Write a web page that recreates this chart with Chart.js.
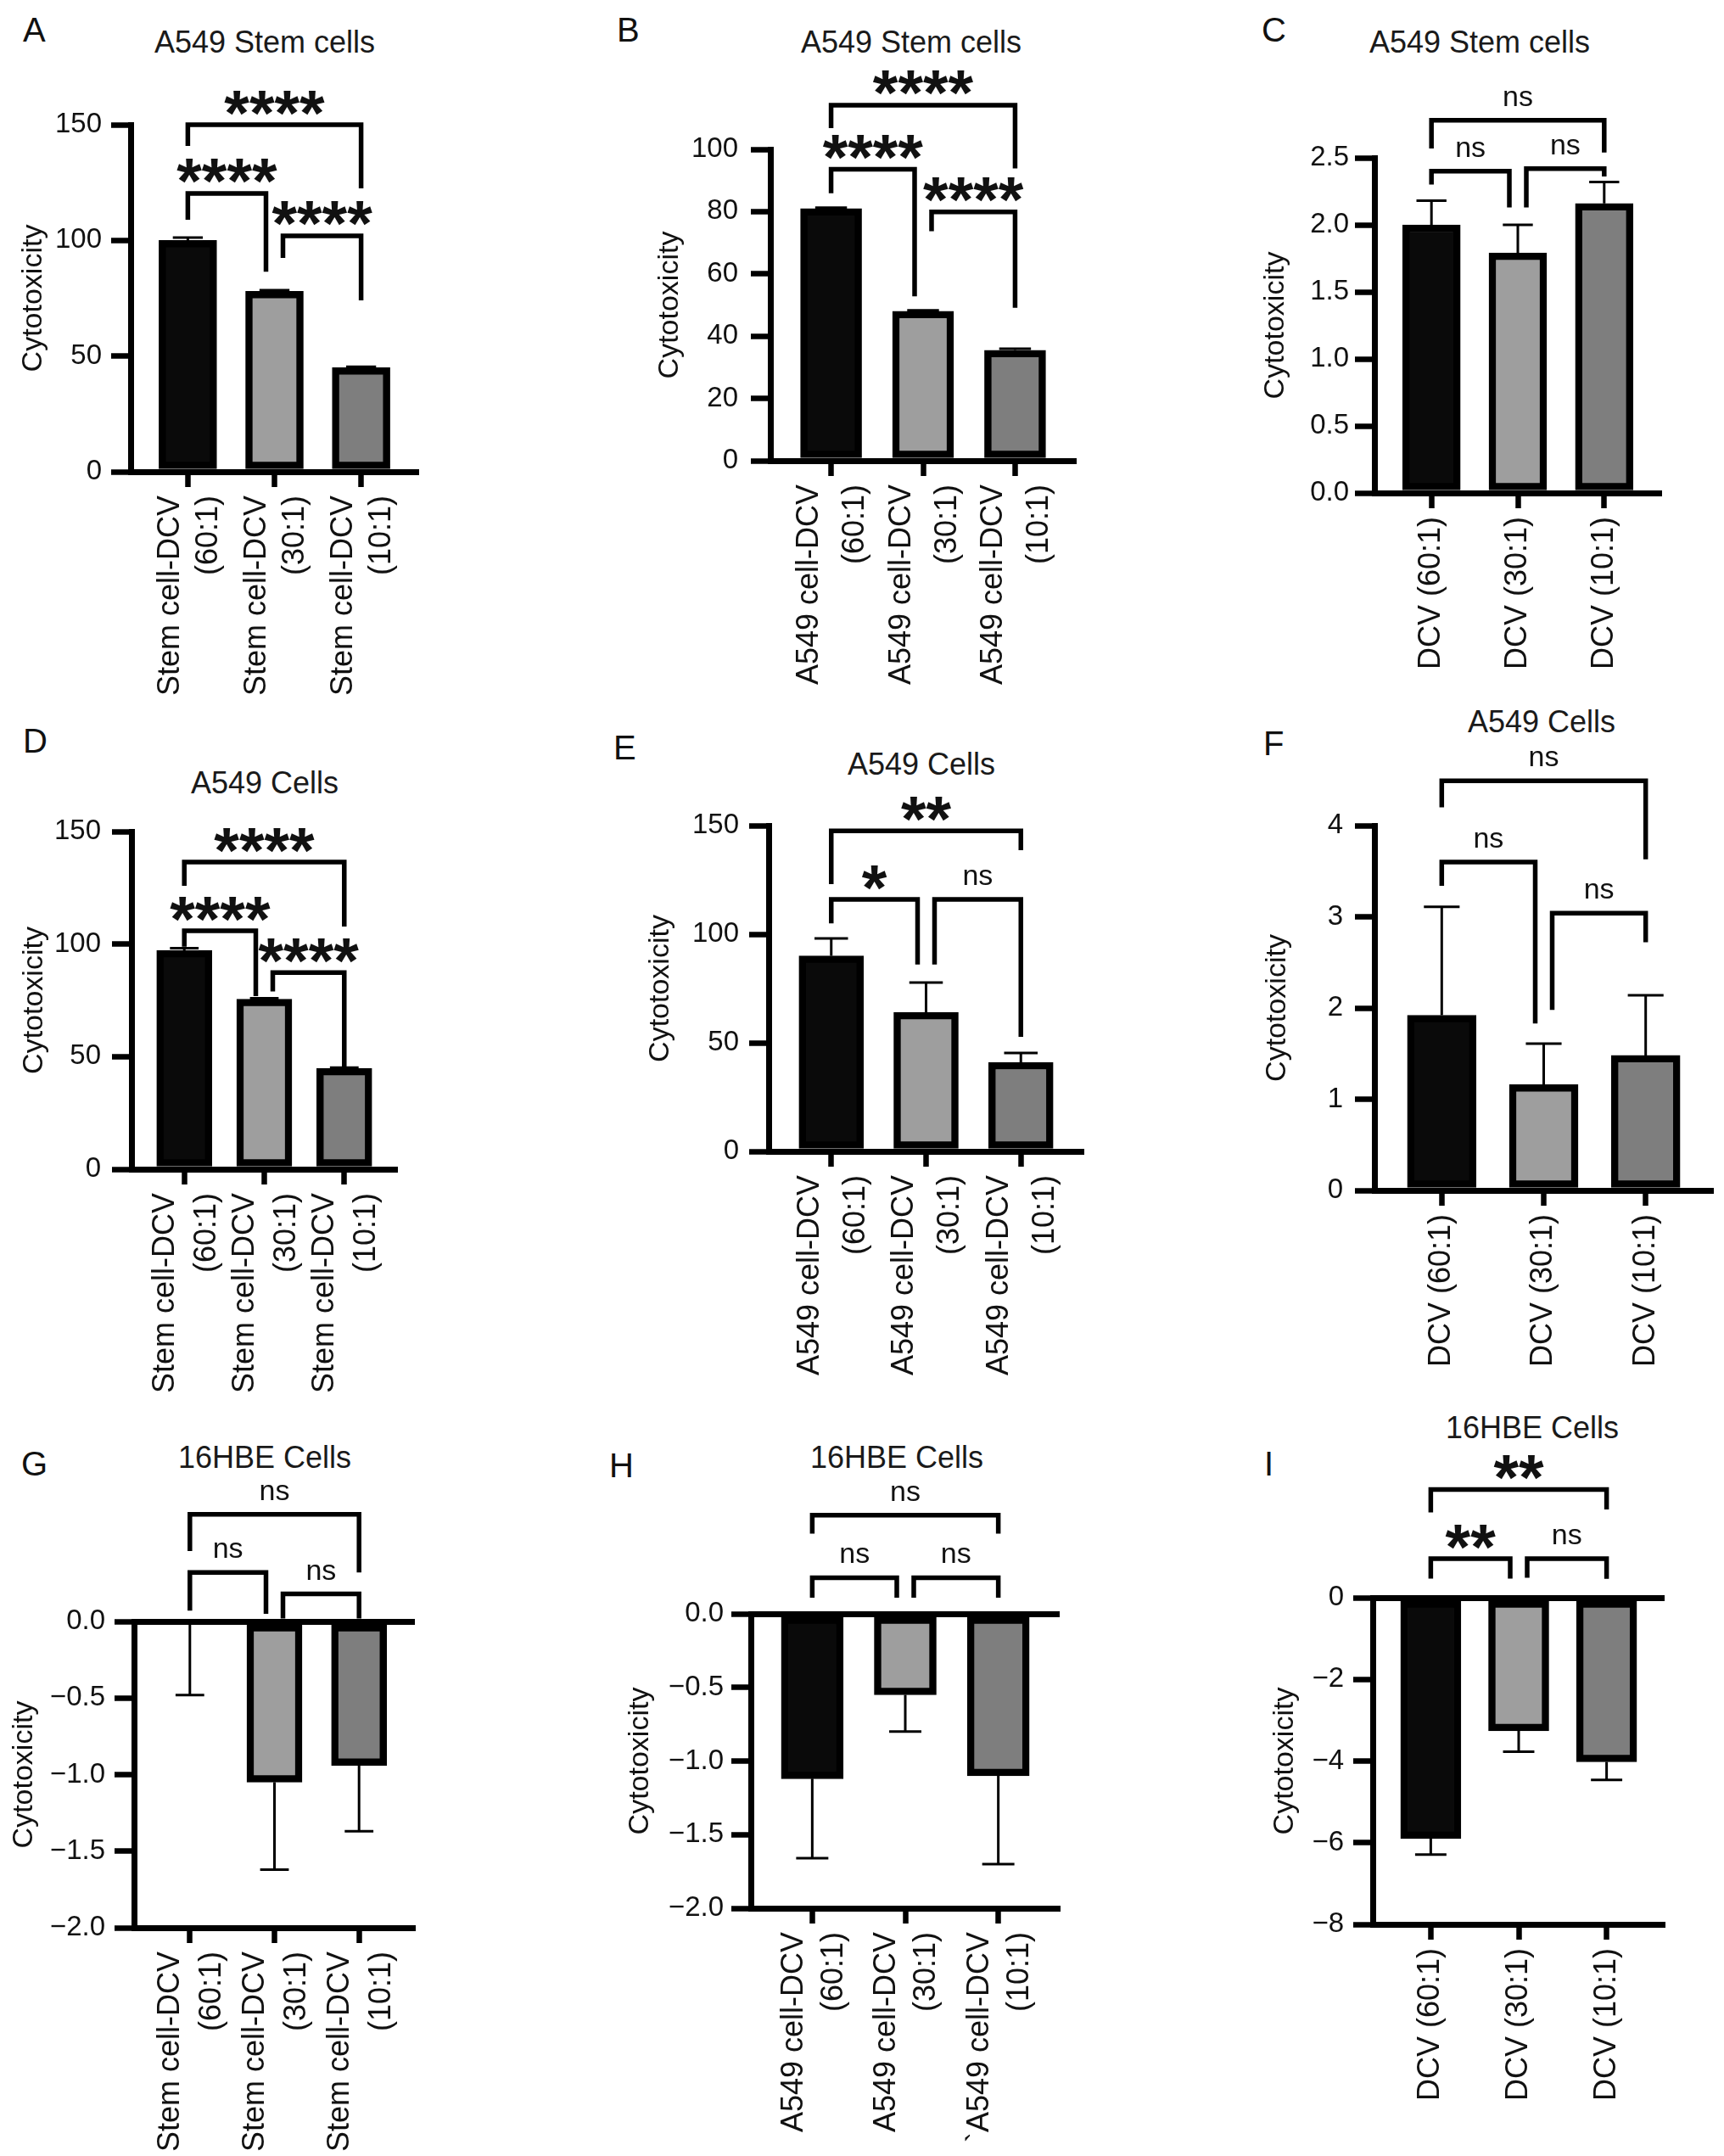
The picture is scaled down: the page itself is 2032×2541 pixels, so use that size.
<!DOCTYPE html>
<html>
<head>
<meta charset="utf-8">
<script src="https://cdn.jsdelivr.net/npm/chart.js@4.4.1/dist/chart.umd.min.js"></script>
<style>
  body { margin: 0; background: #fff; }
  #fig { position: relative; width: 2032px; height: 2541px; background: #fff; overflow: hidden; }
  .ptitle { position: absolute; font: 36px/36px "Liberation Sans", Arial, sans-serif; color: #1a1a1a; white-space: nowrap; transform: translateX(-50%); }
  .letter { position: absolute; font: 40px/40px "Liberation Sans", Arial, sans-serif; color: #111; }
</style>
</head>
<body>
<div id="fig"></div>
<script>
const FONT = '"Liberation Sans", Arial, sans-serif';

// category labels
const stemLabels = [['Stem cell-DCV', '(60:1)'], ['Stem cell-DCV', '(30:1)'], ['Stem cell-DCV', '(10:1)']];
const a549Labels = [['A549 cell-DCV', '(60:1)'], ['A549 cell-DCV', '(30:1)'], ['A549 cell-DCV', '(10:1)']];
const a549LabelsH = [['A549 cell-DCV', '(60:1)'], ['A549 cell-DCV', '(30:1)'], ['`A549 cell-DCV', '(10:1)']];
const dcvLabels = ['DCV (60:1)', 'DCV (30:1)', 'DCV (10:1)'];

// bar means and SD
const valuesA = [100, 78, 45];       const sdA = [1.2, 0.5, 0.4];
const valuesB = [81, 48, 35.5];      const sdB = [0.3, 0.3, 0.5];
const valuesC = [2.0, 1.79, 2.16];   const sdC = [0.18, 0.21, 0.16];
const valuesD = [97.2, 75.5, 44.8];  const sdD = [1.0, 0.4, 0.3];
const valuesE = [90, 64, 41];        const sdE = [8, 13.7, 4.3];
const valuesF = [1.92, 1.16, 1.48];  const sdF = [1.19, 0.45, 0.66];
const valuesG = [0, -1.05, -0.94];   const sdG = [0.48, 0.57, 0.43];
const valuesH = [-1.12, -0.55, -1.10]; const sdH = [0.54, 0.25, 0.60];
const valuesI = [-5.9, -3.26, -4.02];  const sdI = [0.39, 0.51, 0.44];

// y axis: min, max, step
const yTicksA = [0, 150, 50];
const yTicksB = [0, 100, 20];
const yTicksC = [0, 2.5, 0.5];
const yTicksD = [0, 150, 50];
const yTicksE = [0, 150, 50];
const yTicksF = [0, 4, 1];
const yTicksG = [-2, 0, 0.5];
const yTicksH = [-2, 0, 0.5];
const yTicksI = [-8, 0, 2];

// significance brackets: [from bar, to bar, line level, left leg end, right leg end, text]
const bracketsA = [[1, 3, 150, 140.8, 122.5, '****'], [1, 2, 120.3, 108.9, 86.5, '****'], [2, 3, 102, 92.4, 74.1, '****']];
const bracketsB = [[1, 3, 114.2, 106.8, 93.9, '****'], [1, 2, 93.6, 85.9, 52.8, '****'], [2, 3, 79.9, 73.7, 49.1, '****']];
const bracketsC = [[1, 3, 2.78, 2.57, 2.54, 'ns'], [1, 2, 2.40, 2.30, 2.13, 'ns'], [2, 3, 2.42, 2.13, 2.36, 'ns']];
const bracketsD = [[1, 3, 136.4, 125.9, 107.8, '****'], [1, 2, 105.9, 98.8, 76.9, '****'], [2, 3, 87.3, 79, 45.3, '****']];
const bracketsE = [[1, 3, 147.6, 123, 138.7, '**'], [1, 2, 116, 105, 86, '*'], [2, 3, 116, 86, 52.7, 'ns']];
const bracketsF = [[1, 3, 4.49, 4.2, 3.63, 'ns'], [1, 2, 3.6, 3.34, 1.83, 'ns'], [2, 3, 3.04, 1.98, 2.72, 'ns']];
const bracketsG = [[1, 3, 0.70, 0.46, 0.32, 'ns'], [1, 2, 0.32, 0.07, 0.05, 'ns'], [2, 3, 0.18, 0.02, 0.02, 'ns']];
const bracketsH = [[1, 3, 0.67, 0.545, 0.545, 'ns'], [1, 2, 0.245, 0.11, 0.11, 'ns'], [2, 3, 0.245, 0.11, 0.11, 'ns']];
const bracketsI = [[1, 3, 2.65, 2.09, 2.16, '**'], [1, 2, 0.955, 0.465, 0.465, '**'], [2, 3, 0.955, 0.49, 0.46, 'ns']];

const barFills = ['#0a0a0a', '#9e9e9e', '#7e7e7e'];
const colLeft = [0, 700, 1400], colWidth = [700, 700, 632];
const rowTop = [0, 830, 1660], rowHeight = [830, 830, 881];

// layout of each panel (chart area in page px, bar width, text placement)
const panels = [
  {letter: 'A', title: 'A549 Stem cells', col: 0, row: 0, labels: stemLabels, values: valuesA, sd: sdA, yTicks: yTicksA, dec: 0, brackets: bracketsA,
   area: [154, 147, 493, 556], bar: 68, yTitleX: 40, tickPad: 11, lineH: 45, titlePos: [312, 50], letterPos: [29, 21]},
  {letter: 'B', title: 'A549 Stem cells', col: 1, row: 0, labels: a549Labels, values: valuesB, sd: sdB, yTicks: yTicksB, dec: 0, brackets: bracketsB,
   area: [908, 176, 1268, 543], bar: 72, yTitleX: 790, tickPad: 15, lineH: 54, titlePos: [1074, 50], letterPos: [729, 21]},
  {letter: 'C', title: 'A549 Stem cells', col: 2, row: 0, labels: dcvLabels, values: valuesC, sd: sdC, yTicks: yTicksC, dec: 1, brackets: bracketsC,
   area: [1620, 186, 1958, 581], bar: 68, yTitleX: 1504, tickPad: 7, lineH: 43, titlePos: [1744, 50], letterPos: [1489, 21]},
  {letter: 'D', title: 'A549 Cells', col: 0, row: 1, labels: stemLabels, values: valuesD, sd: sdD, yTicks: yTicksD, dec: 0, brackets: bracketsD,
   area: [155, 980, 468, 1378], bar: 65, yTitleX: 41, tickPad: 13, lineH: 49, titlePos: [312, 923], letterPos: [29, 859]},
  {letter: 'E', title: 'A549 Cells', col: 1, row: 1, labels: a549Labels, values: valuesE, sd: sdE, yTicks: yTicksE, dec: 0, brackets: bracketsE,
   area: [906, 973, 1277, 1357], bar: 76, yTitleX: 779, tickPad: 12, lineH: 54, titlePos: [1086, 901], letterPos: [725, 867]},
  {letter: 'F', title: 'A549 Cells', col: 2, row: 1, labels: dcvLabels, values: valuesF, sd: sdF, yTicks: yTicksF, dec: 0, brackets: bracketsF,
   area: [1620, 973, 2019, 1403], bar: 81, yTitleX: 1506, tickPad: 14, lineH: 43, titlePos: [1817, 851], letterPos: [1491, 862]},
  {letter: 'G', title: '16HBE Cells', col: 0, row: 2, labels: stemLabels, values: valuesG, sd: sdG, yTicks: yTicksG, dec: 1, brackets: bracketsG,
   area: [158, 1911, 489, 2272], bar: 65, yTitleX: 29, tickPad: 11, lineH: 49, titlePos: [312, 1718], letterPos: [27, 1711]},
  {letter: 'H', title: '16HBE Cells', col: 1, row: 2, labels: a549LabelsH, values: valuesH, sd: sdH, yTicks: yTicksH, dec: 1, brackets: bracketsH,
   area: [885, 1902, 1249, 2249], bar: 73, yTitleX: 755, tickPad: 9, lineH: 47, titlePos: [1057, 1718], letterPos: [720, 1713]},
  {letter: 'I', title: '16HBE Cells', col: 2, row: 2, labels: dcvLabels, values: valuesI, sd: sdI, yTicks: yTicksI, dec: 0, brackets: bracketsI,
   area: [1618, 1883, 1962, 2268], bar: 71, yTitleX: 1515, tickPad: 11, lineH: 43, titlePos: [1806, 1683], letterPos: [1492, 1711]}
];

function fmt(v, d) {
  const s = Math.abs(v).toFixed(d);
  return v < -1e-9 ? '\u2212' + s : s;
}

// error bars + significance brackets
const marksPlugin = {
  id: 'marks',
  afterDraw(chart) {
    const {ctx} = chart;
    const x = chart.scales.x, y = chart.scales.y;
    const ds = chart.data.datasets[0];
    const meta = chart.getDatasetMeta(0);
    ctx.save();
    ctx.strokeStyle = '#000';
    ctx.lineWidth = 3;
    meta.data.forEach((bar, i) => {
      const v = ds.data[i].y;
      const end = v > 0 ? v + ds.sd[i] : v - ds.sd[i];
      const y0 = y.getPixelForValue(v), y1 = y.getPixelForValue(end);
      const half = bar.width * 0.26;
      ctx.beginPath();
      ctx.moveTo(bar.x, y0);
      ctx.lineTo(bar.x, y1);
      ctx.moveTo(bar.x - half, y1);
      ctx.lineTo(bar.x + half, y1);
      ctx.stroke();
    });

    ctx.lineWidth = 5.5;
    ctx.lineCap = 'butt';
    ctx.lineJoin = 'miter';
    ds.brackets.forEach(([i, j, level, endL, endR, text]) => {
      let xl = x.getPixelForValue(i), xr = x.getPixelForValue(j);
      if (j - i === 1) {
        if (i === 2) xl += 10;
        if (j === 2) xr -= 10;
      }
      const yt = y.getPixelForValue(level);
      ctx.beginPath();
      ctx.moveTo(xl, y.getPixelForValue(endL));
      ctx.lineTo(xl, yt);
      ctx.lineTo(xr, yt);
      ctx.lineTo(xr, y.getPixelForValue(endR));
      ctx.stroke();

      const stars = text.indexOf('*') >= 0;
      ctx.font = stars ? 'bold 76px ' + FONT : '34px ' + FONT;
      ctx.textAlign = 'center';
      ctx.textBaseline = 'alphabetic';
      ctx.fillStyle = '#111';
      const m = ctx.measureText(text);
      const cy = yt - 26;
      ctx.fillText(text, (xl + xr) / 2, cy + (m.actualBoundingBoxAscent - m.actualBoundingBoxDescent) / 2);
    });
    ctx.restore();
  }
};

const fig = document.getElementById('fig');

function makePanel(p) {
  const cL = colLeft[p.col], cW = colWidth[p.col];
  const rT = rowTop[p.row], rH = rowHeight[p.row];
  const [aL, aT, aR, aB] = p.area;

  const letter = document.createElement('div');
  letter.className = 'letter';
  letter.textContent = p.letter;
  letter.style.left = (p.letterPos[0] - 2) + 'px';
  letter.style.top = (p.letterPos[1] - 6) + 'px';
  fig.appendChild(letter);

  const title = document.createElement('div');
  title.className = 'ptitle';
  title.textContent = p.title;
  title.style.left = p.titlePos[0] + 'px';
  title.style.top = (p.titlePos[1] - 18) + 'px';
  fig.appendChild(title);

  const canvas = document.createElement('canvas');
  canvas.width = cW;
  canvas.height = rH;
  canvas.style.cssText = `position:absolute;left:${cL}px;top:${rT}px;width:${cW}px;height:${rH}px`;
  fig.appendChild(canvas);

  const multi = Array.isArray(p.labels[0]);

  return new Chart(canvas, {
    type: 'bar',
    data: {
      datasets: [{
        data: p.values.map((v, i) => ({x: i + 1, y: v})),
        backgroundColor: barFills,
        borderColor: '#000',
        borderWidth: 8.5,
        borderSkipped: false,
        barThickness: p.bar,
        sd: p.sd,
        brackets: p.brackets
      }]
    },
    options: {
      responsive: false,
      animation: false,
      devicePixelRatio: 1,
      layout: {padding: {left: 0, bottom: 0, top: aT - rT, right: cL + cW - aR}},
      plugins: {legend: {display: false}, tooltip: {enabled: false}},
      scales: {
        x: {
          type: 'linear',
          offset: false,
          min: 0.34,
          max: 3.66,
          afterFit: s => { s.height = rT + rH - aB; s.paddingLeft = 0; s.paddingRight = 0; },
          afterBuildTicks: s => { s.ticks = [1, 2, 3].map(v => ({value: v})); },
          grid: {offset: false, drawOnChartArea: false, drawTicks: true, tickLength: 18, tickWidth: 6.5, tickColor: '#000', color: '#000'},
          border: {display: true, color: '#000', width: 7},
          ticks: {
            autoSkip: false,
            minRotation: 90,
            maxRotation: 90,
            padding: 10,
            labelOffset: multi ? -p.lineH / 2 + 2 : 0,
            color: '#111',
            font: {family: FONT, size: 36, lineHeight: p.lineH / 36},
            callback: v => p.labels[Math.round(v) - 1]
          }
        },
        y: {
          min: p.yTicks[0],
          max: p.yTicks[1],
          afterFit: s => { s.width = aL - cL; s.paddingTop = 0; s.paddingBottom = 0; },
          grid: {
            color: c => (c.tick && Math.abs(c.tick.value) < 1e-9) ? '#000' : 'rgba(0,0,0,0)',
            lineWidth: 7,
            drawTicks: true,
            tickLength: 23,
            tickWidth: 6.5,
            tickColor: '#000'
          },
          border: {display: true, color: '#000', width: 7},
          ticks: {
            stepSize: p.yTicks[2],
            padding: p.tickPad,
            color: '#111',
            font: {family: FONT, size: 33},
            callback: v => fmt(v, p.dec)
          },
          title: {
            display: true,
            text: 'Cytotoxicity',
            color: '#111',
            font: {family: FONT, size: 34},
            padding: {top: p.yTitleX - cL - 20.4, bottom: 0}
          }
        }
      }
    },
    plugins: [marksPlugin]
  });
}

panels.forEach(makePanel);
</script>
</body>
</html>
